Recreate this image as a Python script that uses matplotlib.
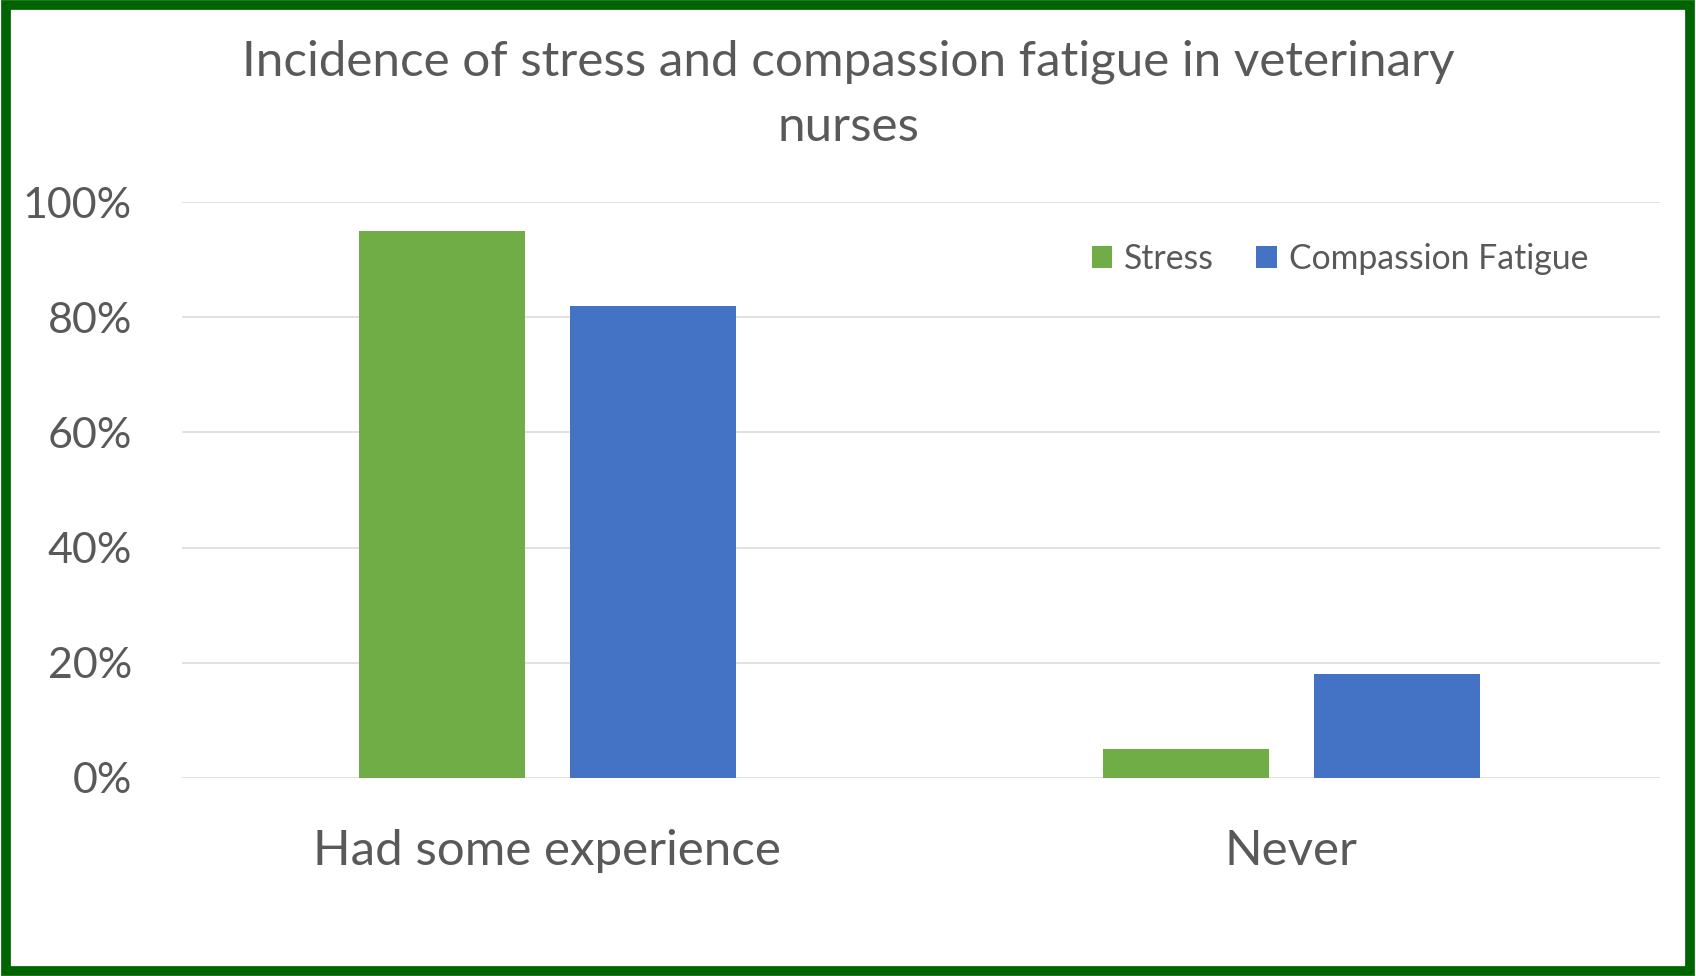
import matplotlib
matplotlib.use('Agg')
import matplotlib.pyplot as plt
import matplotlib.ticker as mticker
from matplotlib.patches import Rectangle
import numpy as np

# ── Data ──────────────────────────────────────────────────────────────────────
categories = ['Had some experience', 'Never']
stress = [0.95, 0.05]
compassion_fatigue = [0.82, 0.18]
y_ticks = [0, 0.2, 0.4, 0.6, 0.8, 1.0]

GREEN = '#70ad47'
BLUE = '#4472c4'
TEXT = '#595959'
GRID = '#d9d9d9'

plt.rcParams['font.family'] = ['Lato', 'DejaVu Sans']

fig = plt.figure(figsize=(16.96, 9.76), dpi=100)
ax = fig.add_axes([0.1073, 0.2029, 0.8717, 0.5901])

x = np.arange(len(categories))
width = 0.223
offset = 0.142
ax.bar(x - offset, stress, width, color=GREEN, label='Stress', zorder=3)
ax.bar(x + offset, compassion_fatigue, width, color=BLUE,
       label='Compassion Fatigue', zorder=3)

ax.set_xlim(-0.491, 1.496)
ax.set_ylim(0, 1.0)
ax.set_yticks(y_ticks)
ax.yaxis.set_major_formatter(mticker.PercentFormatter(1.0, decimals=0))
ax.set_xticks(x)
ax.set_xticklabels(categories)

ax.grid(True, axis='y', color=GRID, linewidth=1.1, zorder=0)
ax.spines[['top', 'right', 'left', 'bottom']].set_visible(False)
ax.tick_params(axis='y', length=0, pad=36, labelsize=31, labelcolor=TEXT)
ax.tick_params(axis='x', length=0, pad=37, labelsize=35.5, labelcolor=TEXT)

fig.text(0.5, 0.9037, 'Incidence of stress and compassion fatigue in veterinary\nnurses',
         ha='center', va='center', fontsize=35.6, color=TEXT, linespacing=1.58)

ax.legend(loc='center left', bbox_to_anchor=(0.644, 0.7347),
          bbox_transform=fig.transFigure, ncol=2, frameon=False,
          fontsize=24.3, labelcolor=TEXT, handlelength=0.6, handleheight=0.6,
          handletextpad=0.35, columnspacing=1.25, borderpad=0, borderaxespad=0)

# dark green frame round the whole picture
fig.patches.append(Rectangle((0.0035, 0.0055), 0.993, 0.989,
                             transform=fig.transFigure, fill=False,
                             edgecolor='#006400', linewidth=7))

fig.savefig('out.png', dpi=100)
